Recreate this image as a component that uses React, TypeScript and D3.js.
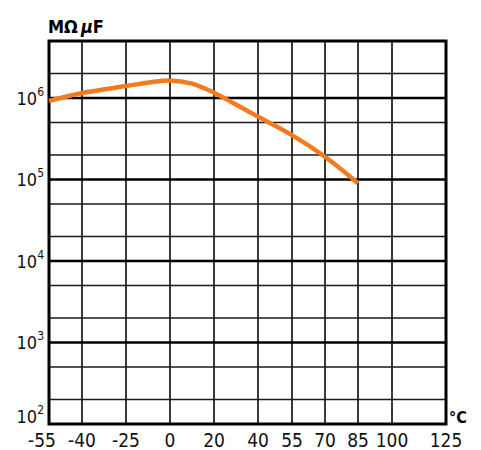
import React from "react";
import * as d3 from "d3";

const xTicks = [-55, -40, -25, 0, 20, 40, 55, 70, 85, 100, 125];
const yDecades = [2, 3, 4, 5, 6];
const yMinorFactors = [2, 5];
const temps = [-55, -40, -25, -10, 0, 10, 20, 30, 40, 55, 70, 85];
const irValues = [9.2e5, 1.15e6, 1.4e6, 1.57e6, 1.64e6, 1.5e6, 1.16e6, 8.3e5, 5.9e5, 3.5e5, 1.9e5, 9.0e4];
const yUnitA = "MΩ";
const yUnitMu = "μ";
const yUnitF = "F";
const xUnit = "°C";

const W = 481;
const H = 450;
const L = 49, R = 446, T = 41, B = 424;
const FONT = "'Liberation Sans Narrow', 'DejaVu Sans Condensed', 'Liberation Sans', sans-serif";

export default function App() {
  // non-uniform (piecewise) temperature axis as in the original datasheet grid
  const xPix = [L, 82, 126, 170, 214, 258, 292, 325, 358, 392, R];
  const x = d3.scaleLinear().domain(xTicks).range(xPix);
  const y = d3.scaleLog().domain([1e2, 5e6]).range([B, T]);

  const minorY: number[] = [];
  yDecades.forEach((d) => yMinorFactors.forEach((f) => {
    const v = f * Math.pow(10, d);
    if (v < 5e6) minorY.push(v);
  }));
  const majorY = yDecades.map((d) => Math.pow(10, d));

  const line = d3
    .line<number>()
    .x((_, i) => x(temps[i]))
    .y((v) => y(v))
    .curve(d3.curveCatmullRom.alpha(0.5));

  return (
    <svg width={W} height={H} style={{ position: "absolute", left: 0, top: 0, background: "#fff" }} fontFamily={FONT}>
      {/* vertical grid */}
      {xTicks.slice(1, -1).map((t) => (
        <line key={"v" + t} x1={x(t)} x2={x(t)} y1={T} y2={B} stroke="#3a3a3a" strokeWidth={2} />
      ))}
      {/* minor horizontal grid */}
      {minorY.map((v) => (
        <line key={"m" + v} x1={L} x2={R} y1={y(v)} y2={y(v)} stroke="#1a1a1a" strokeWidth={1.6} />
      ))}
      {/* decade lines */}
      {majorY.slice(1).map((v) => (
        <line key={"M" + v} x1={L} x2={R} y1={y(v)} y2={y(v)} stroke="#000" strokeWidth={2.6} />
      ))}
      {/* frame */}
      <rect x={L} y={T} width={R - L} height={B - T} fill="none" stroke="#000" strokeWidth={3} />

      {/* curve */}
      <path d={line(irValues) || ""} fill="none" stroke="#f47a20" strokeWidth={4.5} strokeLinecap="butt" />

      {/* y labels */}
      {majorY.map((v, i) => (
        <text key={"yl" + v} x={44} y={y(v) + (i === 0 ? -1 : 7)} textAnchor="end" fontSize={18} fill="#111">
          10
          <tspan fontSize={12} dy={-9}>{yDecades[i]}</tspan>
        </text>
      ))}
      {/* x labels */}
      {xTicks.map((t, i) => (
        <text
          key={"xl" + t}
          x={x(t) + (i === 0 ? -7 : 0)}
          y={447}
          textAnchor="middle"
          fontSize={19}
          fill="#111"
        >
          {t}
        </text>
      ))}
      {/* units */}
      <text x={48} y={33} fontSize={18} fontWeight="bold" fill="#000">
        {yUnitA}
        <tspan dx={3} fontStyle="italic">{yUnitMu}</tspan>
        <tspan fontStyle="normal">{yUnitF}</tspan>
      </text>
      <text x={449} y={423} fontSize={16} fontWeight="bold" fill="#000">
        {xUnit}
      </text>
    </svg>
  );
}
